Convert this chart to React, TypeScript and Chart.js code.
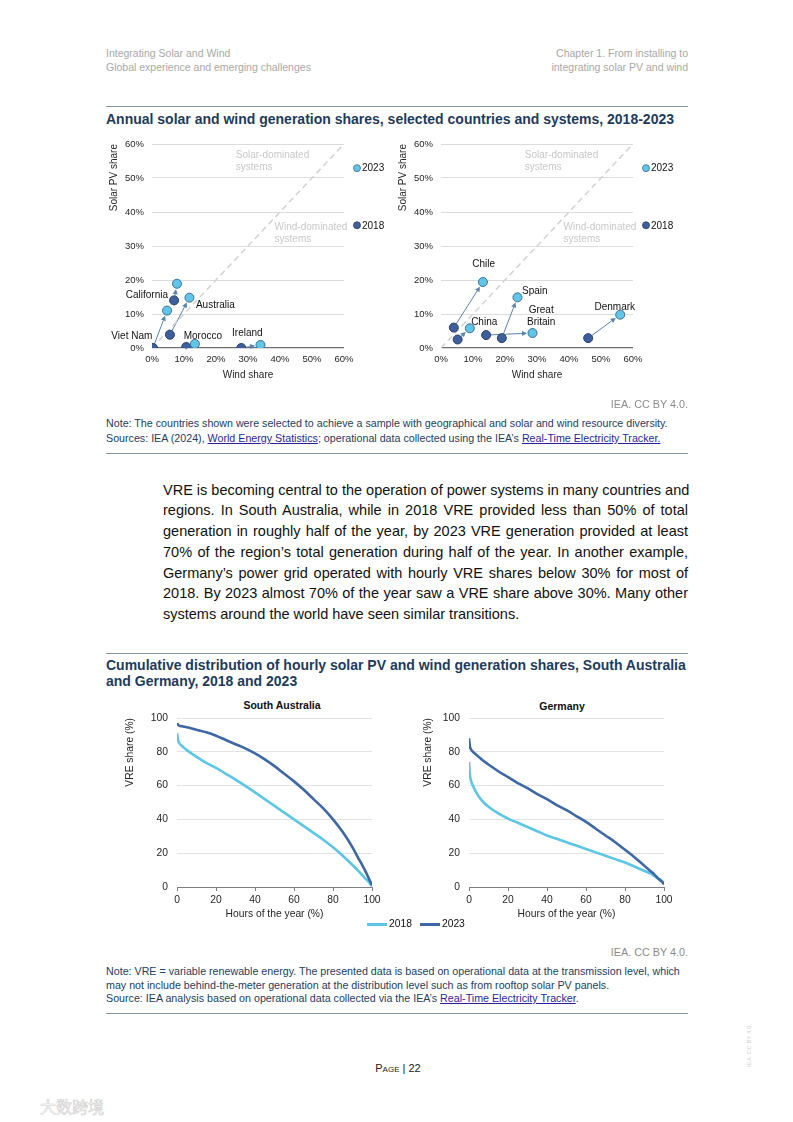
import React, { useEffect, useRef } from 'react';
import { Chart, registerables } from 'chart.js';

Chart.register(...registerables);

const FONT = '"Liberation Sans", Arial, Helvetica, sans-serif';

// ---------- Chart 1: annual solar & wind shares ----------
const shareTicks = [0, 10, 20, 30, 40, 50, 60];
const seriesYears = ['2023', '2018'];

const panelAEntities = ['Viet Nam', 'California', 'Australia', 'Morocco', 'Ireland'];
const panelAWind2018 = [0.3, 6.9, 5.6, 10.7, 27.9];
const panelASolar2018 = [0.0, 14.0, 3.9, 0.3, 0.0];
const panelAWind2023 = [4.7, 7.8, 11.7, 13.4, 33.9];
const panelASolar2023 = [11.0, 18.9, 14.8, 1.2, 0.9];

const panelBEntities = ['Chile', 'China', 'Spain', 'Great Britain', 'Denmark'];
const panelBWind2018 = [4.0, 5.2, 19.0, 14.1, 46.0];
const panelBSolar2018 = [6.0, 2.5, 2.9, 3.8, 2.9];
const panelBWind2023 = [13.1, 9.0, 23.9, 28.6, 56.0];
const panelBSolar2023 = [19.4, 5.8, 14.9, 4.4, 9.8];

// ---------- Chart 2: cumulative distribution of hourly VRE shares ----------
const hourTicks = [0, 20, 40, 60, 80, 100];
const vreTicks = [0, 20, 40, 60, 80, 100];
const hoursPct = [0, 0.5, 1, 2, 3, 5, 7.5, 10, 15, 20, 25, 30, 35, 40, 45, 50, 55, 60, 65, 70, 75, 80, 85, 90, 93, 95, 97, 98, 99, 100];
const saVre2018 = [91, 87, 85.5, 84, 83, 81, 79, 77, 73.5, 70.5, 67, 63.5, 59.8, 56, 52, 48, 44, 40, 36, 32, 28, 23.5, 18.5, 13, 9.5, 7, 4.5, 3.5, 2, 0.5];
const saVre2023 = [97, 96, 95.5, 95.2, 95, 94.5, 93.8, 93, 91.5, 89.5, 87, 84.5, 82, 79, 75.5, 71.5, 67, 62.5, 57.5, 52, 46.5, 40, 32.5, 23.5, 17, 13, 8.5, 6, 3.5, 1];
const deVre2018 = [74, 66, 63, 60, 57.5, 53.5, 50, 47.5, 43.5, 40.5, 38, 35.5, 33, 30.5, 28.5, 26.5, 24.5, 22.5, 20.5, 18.5, 16.5, 14.5, 12, 9.5, 8, 6.5, 5, 4.5, 3.5, 2.5];
const deVre2023 = [88, 83, 81.5, 80, 79, 77, 74.5, 72.5, 68.5, 65, 61.5, 58.5, 55, 52, 48.5, 45.5, 42, 38.5, 34.5, 30.5, 26.5, 22, 17.5, 12.5, 9.5, 7.5, 5, 4, 3, 1.5];

// ---------- styles ----------
const C23 = '#60c5e6';
const C23B = '#3a6f9c';
const C18 = '#3f5e9c';
const C18B = '#27406f';
const ARROW = '#5b82ad';
const L18 = '#5cc6e6';
const L23 = '#3e67a5';
const TITLE = '#1f3b5c';
const NOTE = '#24405f';
const TICK = '#262626';
const GRID = '#dcdcdc';
const AXIS = '#7f7f7f';
const LINK = '#2a1fa0';

const zeroPadY = (w: number) => (s: any) => {
  s.width = w;
  s.paddingTop = 0;
  s.paddingBottom = 0;
};
const zeroPadX = (h: number) => (s: any) => {
  s.height = h;
  s.paddingLeft = 0;
  s.paddingRight = 0;
};

type Props = {
  left: number;
  top: number;
  names: string[];
  w18: number[];
  s18: number[];
  w23: number[];
  s23: number[];
  labelAt: number[][];
};

function ScatterPanel(p: Props) {
  const ref = useRef<HTMLCanvasElement>(null);
  useEffect(() => {
    const R = 4.5;
    const decor = {
      id: 'decor',
      beforeDatasetsDraw(chart: any) {
        const { ctx, scales } = chart;
        const xs = scales.x, ys = scales.y;
        ctx.save();
        ctx.font = `10px ${FONT}`;
        ctx.fillStyle = '#c8c8c8';
        ctx.textAlign = 'left';
        ctx.textBaseline = 'middle';
        ctx.fillText('Solar-dominated', xs.getPixelForValue(26.2), ys.getPixelForValue(56.7));
        ctx.fillText('systems', xs.getPixelForValue(26.2), ys.getPixelForValue(53.2));
        ctx.fillText('Wind-dominated', xs.getPixelForValue(38.3), ys.getPixelForValue(35.5));
        ctx.fillText('systems', xs.getPixelForValue(38.3), ys.getPixelForValue(32.0));
        ctx.strokeStyle = ARROW;
        ctx.fillStyle = ARROW;
        ctx.lineWidth = 1;
        for (let i = 0; i < p.names.length; i++) {
          const x0 = xs.getPixelForValue(p.w18[i]);
          const y0 = ys.getPixelForValue(p.s18[i]);
          const x1 = xs.getPixelForValue(p.w23[i]);
          const y1 = ys.getPixelForValue(p.s23[i]);
          const dx = x1 - x0, dy = y1 - y0;
          const L = Math.hypot(dx, dy);
          if (L < 1) continue;
          const ux = dx / L, uy = dy / L;
          const tx = x1 - ux * (R + 1), ty = y1 - uy * (R + 1);
          const hl = 5, hw = 2.6;
          const bx = tx - ux * hl, by = ty - uy * hl;
          const sx = x0 + ux * R, sy = y0 + uy * R;
          if ((bx - sx) * ux + (by - sy) * uy > 0) {
            ctx.beginPath();
            ctx.moveTo(sx, sy);
            ctx.lineTo(bx, by);
            ctx.stroke();
          }
          ctx.beginPath();
          ctx.moveTo(tx, ty);
          ctx.lineTo(bx - uy * hw, by + ux * hw);
          ctx.lineTo(bx + uy * hw, by - ux * hw);
          ctx.closePath();
          ctx.fill();
        }
        ctx.restore();
      },
      afterDatasetsDraw(chart: any) {
        const { ctx, scales, chartArea } = chart;
        const xs = scales.x, ys = scales.y;
        ctx.save();
        ctx.font = `10px ${FONT}`;
        ctx.fillStyle = '#111';
        ctx.textAlign = 'center';
        ctx.textBaseline = 'middle';
        for (let i = 0; i < p.names.length; i++) {
          const words = p.names[i] === 'Great Britain' ? ['Great', 'Britain'] : [p.names[i]];
          const cx = xs.getPixelForValue(p.labelAt[i][0]);
          const cy = ys.getPixelForValue(p.labelAt[i][1]);
          words.forEach((w, k) => ctx.fillText(w, cx, cy + k * 11.5 - (words.length - 1) * 5.75));
        }
        // legend
        const legendY = [ys.getPixelForValue(52.9), ys.getPixelForValue(36.1)];
        const fills = [C23, C18];
        const borders = [C23B, C18B];
        ctx.textAlign = 'left';
        seriesYears.forEach((yr, k) => {
          const mx = chartArea.right + 13;
          ctx.beginPath();
          ctx.arc(mx, legendY[k], 3.5, 0, Math.PI * 2);
          ctx.fillStyle = fills[k];
          ctx.fill();
          ctx.strokeStyle = borders[k];
          ctx.lineWidth = 0.8;
          ctx.stroke();
          ctx.fillStyle = '#111';
          ctx.fillText(yr, mx + 5, legendY[k] + 0.5);
        });
        ctx.restore();
      },
    };
    const chart = new Chart(ref.current as HTMLCanvasElement, {
      type: 'scatter',
      data: {
        datasets: [
          {
            label: '2023',
            data: p.w23.map((w, i) => ({ x: w, y: p.s23[i] })),
            backgroundColor: C23,
            borderColor: C23B,
            borderWidth: 1,
            pointRadius: R,
          },
          {
            label: '2018',
            data: p.w18.map((w, i) => ({ x: w, y: p.s18[i] })),
            backgroundColor: C18,
            borderColor: C18B,
            borderWidth: 1,
            pointRadius: R,
          },
          {
            label: 'parity',
            data: [
              { x: shareTicks[0], y: shareTicks[0] },
              { x: shareTicks[shareTicks.length - 1], y: shareTicks[shareTicks.length - 1] },
            ],
            showLine: true,
            borderColor: '#d2d2d2',
            borderDash: [6, 4],
            borderWidth: 1.5,
            pointRadius: 0,
          },
        ],
      },
      options: {
        responsive: false,
        animation: false,
        events: [],
        layout: { padding: { left: 0, right: 56, top: 10, bottom: 0 } },
        plugins: { legend: { display: false }, tooltip: { enabled: false } },
        scales: {
          x: {
            type: 'linear',
            min: 0,
            max: 60,
            afterBuildTicks: (s: any) => { s.ticks = shareTicks.map((v) => ({ value: v })); },
            afterFit: zeroPadX(38),
            ticks: { padding: 6, color: TICK, font: { family: FONT, size: 9.5 }, callback: (v: any) => v + '%' },
            grid: { display: false, drawTicks: false },
            border: { display: false },
            title: { display: true, text: 'Wind share', color: TICK, font: { family: FONT, size: 10 }, padding: { top: 0, bottom: 5 } },
          },
          y: {
            type: 'linear',
            min: 0,
            max: 60,
            afterBuildTicks: (s: any) => { s.ticks = shareTicks.map((v) => ({ value: v })); },
            afterFit: zeroPadY(48),
            ticks: { padding: 8, color: TICK, font: { family: FONT, size: 9.5 }, callback: (v: any) => v + '%' },
            grid: { drawTicks: false, color: (c: any) => (c.tick && c.tick.value === 0 ? '#6f6f6f' : GRID), lineWidth: (c: any) => (c.tick && c.tick.value === 0 ? 1.3 : 1) },
            border: { display: false },
            title: { display: true, text: 'Solar PV share', align: 'end', color: TICK, font: { family: FONT, size: 10 }, padding: { top: 4, bottom: 0 } },
          },
        },
      },
      plugins: [decor],
    } as any);
    return () => chart.destroy();
  }, []);
  return <canvas ref={ref} width={296} height={252} style={{ position: 'absolute', left: p.left, top: p.top }} />;
}

type LineProps = {
  left: number;
  top: number;
  width: number;
  yWidth: number;
  v18: number[];
  v23: number[];
};

function LinePanel(p: LineProps) {
  const ref = useRef<HTMLCanvasElement>(null);
  useEffect(() => {
    const chart = new Chart(ref.current as HTMLCanvasElement, {
      type: 'line',
      data: {
        datasets: [
          {
            label: '2023',
            data: hoursPct.map((h, i) => ({ x: h, y: p.v23[i] })),
            borderColor: L23,
            borderWidth: 2.6,
            pointRadius: 0,
            cubicInterpolationMode: 'monotone',
            fill: false,
          },
          {
            label: '2018',
            data: hoursPct.map((h, i) => ({ x: h, y: p.v18[i] })),
            borderColor: L18,
            borderWidth: 2.6,
            pointRadius: 0,
            cubicInterpolationMode: 'monotone',
            fill: false,
          },
        ],
      },
      options: {
        responsive: false,
        animation: false,
        events: [],
        layout: { padding: { left: 0, right: 20, top: 10, bottom: 0 } },
        plugins: { legend: { display: false }, tooltip: { enabled: false } },
        scales: {
          x: {
            type: 'linear',
            min: 0,
            max: 100,
            afterBuildTicks: (s: any) => { s.ticks = hourTicks.map((v) => ({ value: v })); },
            afterFit: zeroPadX(36),
            ticks: { padding: 3, color: TICK, font: { family: FONT, size: 10.3 } },
            grid: { drawOnChartArea: false, drawTicks: true, tickLength: 4, color: AXIS },
            border: { display: true, color: AXIS },
            title: { display: true, text: 'Hours of the year (%)', color: TICK, font: { family: FONT, size: 10.3 }, padding: { top: 0, bottom: 3 } },
          },
          y: {
            type: 'linear',
            min: 0,
            max: 100,
            afterBuildTicks: (s: any) => { s.ticks = vreTicks.map((v) => ({ value: v })); },
            afterFit: zeroPadY(p.yWidth),
            ticks: { padding: 9, color: TICK, font: { family: FONT, size: 10.3 } },
            grid: { drawTicks: false, color: (c: any) => (c.tick && c.tick.value === 0 ? AXIS : '#e3e3e3') },
            border: { display: false },
            title: { display: true, text: 'VRE share (%)', align: 'end', color: TICK, font: { family: FONT, size: 10.3 }, padding: { top: 4, bottom: 0 } },
          },
        },
      },
    } as any);
    return () => chart.destroy();
  }, []);
  return <canvas ref={ref} width={p.width} height={215} style={{ position: 'absolute', left: p.left, top: p.top }} />;
}

const abs = (s: React.CSSProperties): React.CSSProperties => ({ position: 'absolute', ...s });

function Rule({ top }: { top: number }) {
  return <div style={abs({ left: 106, top, width: 582, height: 1, background: '#8794a3' })} />;
}

function Link({ children }: { children: React.ReactNode }) {
  return <span style={{ color: LINK, textDecoration: 'underline' }}>{children}</span>;
}

const bodyLines = [
  'VRE is becoming central to the operation of power systems in many countries and',
  'regions. In South Australia, while in 2018 VRE provided less than 50% of total',
  'generation in roughly half of the year, by 2023 VRE generation provided at least',
  '70% of the region\u2019s total generation during half of the year. In another example,',
  'Germany\u2019s power grid operated with hourly VRE shares below 30% for most of',
  '2018. By 2023 almost 70% of the year saw a VRE share above 30%. Many other',
  'systems around the world have seen similar transitions.',
];

export default function App() {
  return (
    <div style={abs({ left: 0, top: 0, width: 793, height: 1122, background: '#fff', fontFamily: FONT, overflow: 'hidden' })}>
      <div style={abs({ left: 106, top: 46, fontSize: 10.5, lineHeight: '14px', color: '#a8a8a8', whiteSpace: 'nowrap' })}>
        Integrating Solar and Wind
        <br />
        Global experience and emerging challenges
      </div>
      <div style={abs({ right: 105, top: 46, fontSize: 10.5, lineHeight: '14px', color: '#a8a8a8', textAlign: 'right', whiteSpace: 'nowrap' })}>
        Chapter 1. From installing to
        <br />
        integrating solar PV and wind
      </div>
      <Rule top={106} />
      <div style={abs({ left: 106, top: 111, fontSize: 14, lineHeight: '16px', fontWeight: 'bold', color: TITLE, whiteSpace: 'nowrap' })}>
        Annual solar and wind generation shares, selected countries and systems, 2018-2023
      </div>

      <ScatterPanel
        left={104}
        top={134}
        names={panelAEntities}
        w18={panelAWind2018}
        s18={panelASolar2018}
        w23={panelAWind2023}
        s23={panelASolar2023}
        labelAt={[[-6.3, 3.6], [-1.6, 15.4], [19.8, 12.5], [15.9, 3.6], [29.8, 4.2]]}
      />
      <ScatterPanel
        left={393}
        top={134}
        names={panelBEntities}
        w18={panelBWind2018}
        s18={panelBSolar2018}
        w23={panelBWind2023}
        s23={panelBSolar2023}
        labelAt={[[13.3, 24.5], [13.5, 7.7], [29.3, 16.8], [31.3, 9.4], [54.3, 12.1]]}
      />

      <div style={abs({ right: 105, top: 397, fontSize: 10.8, lineHeight: '14px', color: '#8c8c8c' })}>IEA. CC BY 4.0.</div>
      <div style={abs({ left: 106, top: 416, fontSize: 10.7, lineHeight: '15px', color: NOTE, whiteSpace: 'nowrap' })}>
        Note: The countries shown were selected to achieve a sample with geographical and solar and wind resource diversity.
        <br />
        Sources: IEA (2024), <Link>World Energy Statistics</Link>; operational data collected using the IEA&#8217;s <Link>Real-Time Electricity Tracker.</Link>
      </div>
      <Rule top={453} />

      <div style={abs({ left: 163, top: 479.5, width: 525, fontSize: 14.5, lineHeight: '20.8px', color: '#111' })}>
        {bodyLines.map((l, i) => (
          <div key={i} style={{ textAlign: 'justify', textAlignLast: i < bodyLines.length - 1 ? 'justify' : 'left', whiteSpace: 'nowrap' }}>
            {l}
          </div>
        ))}
      </div>

      <Rule top={653} />
      <div style={abs({ left: 106, top: 657, fontSize: 14, lineHeight: '16px', fontWeight: 'bold', color: TITLE, whiteSpace: 'nowrap' })}>
        Cumulative distribution of hourly solar PV and wind generation shares, South Australia
        <br />
        and Germany, 2018 and 2023
      </div>

      <div style={abs({ left: 232, top: 699, width: 100, textAlign: 'center', fontSize: 10.5, fontWeight: 'bold', color: '#111' })}>South Australia</div>
      <div style={abs({ left: 512, top: 700, width: 100, textAlign: 'center', fontSize: 10.5, fontWeight: 'bold', color: '#111' })}>Germany</div>

      <LinePanel left={120} top={708} width={272} yWidth={57} v18={saVre2018} v23={saVre2023} />
      <LinePanel left={418} top={708} width={266} yWidth={51} v18={deVre2018} v23={deVre2023} />

      <div style={abs({ left: 367, top: 917, fontSize: 10.3, lineHeight: '14px', color: '#111', whiteSpace: 'nowrap', display: 'flex', alignItems: 'center' })}>
        <span style={{ display: 'inline-block', width: 20, height: 3, background: L18, marginRight: 2 }} />
        <span style={{ marginRight: 8 }}>2018</span>
        <span style={{ display: 'inline-block', width: 20, height: 3, background: L23, marginRight: 2 }} />
        <span>2023</span>
      </div>

      <div style={abs({ right: 105, top: 945, fontSize: 10.8, lineHeight: '14px', color: '#8c8c8c' })}>IEA. CC BY 4.0.</div>
      <div style={abs({ left: 106, top: 965, fontSize: 10.7, lineHeight: '13.5px', color: NOTE, whiteSpace: 'nowrap' })}>
        Note: VRE = variable renewable energy. The presented data is based on operational data at the transmission level, which
        <br />
        may not include behind-the-meter generation at the distribution level such as from rooftop solar PV panels.
        <br />
        Source: IEA analysis based on operational data collected via the IEA&#8217;s <Link>Real-Time Electricity Tracker</Link>.
      </div>
      <Rule top={1013} />

      <div style={abs({ left: 343, top: 1061, width: 110, textAlign: 'center', fontSize: 11, lineHeight: '14px', color: '#222' })}>
        <span style={{ fontVariant: 'small-caps' }}>Page</span> | 22
      </div>

      <div style={abs({ left: 746, top: 1024, fontSize: 6, color: '#cfcfcf', writingMode: 'vertical-rl', transform: 'rotate(180deg)', whiteSpace: 'nowrap' })}>
        IEA. CC BY 4.0.
      </div>

      <div style={abs({ left: 40, top: 1096, fontSize: 16, lineHeight: '20px', color: '#ffffff', WebkitTextStroke: '0.6px #cfcfcf', fontFamily: '"Noto Sans CJK SC", sans-serif', whiteSpace: 'nowrap' })}>
        大数跨境
      </div>
    </div>
  );
}
